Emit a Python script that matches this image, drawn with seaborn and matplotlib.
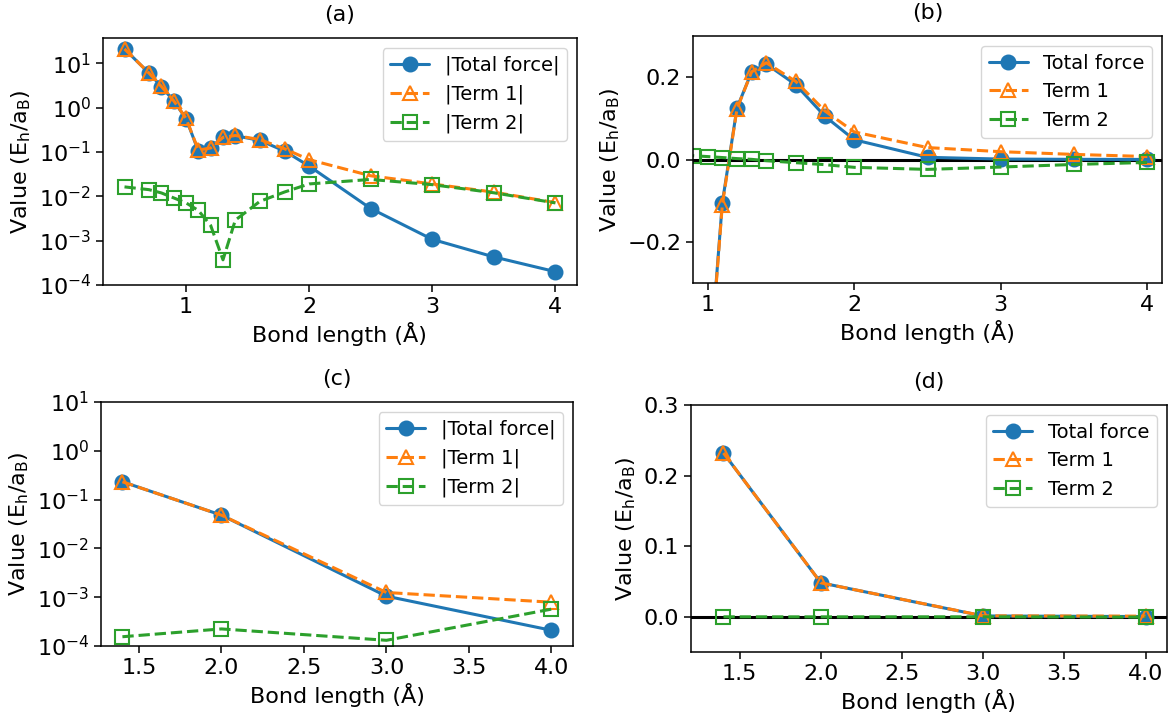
import numpy as np
import matplotlib
matplotlib.use("Agg")
import matplotlib.pyplot as plt
import seaborn as sns

# scan over bond length, panels (a)/(b)
bond_a = [0.5, 0.7, 0.8, 0.9, 1.0, 1.1, 1.2, 1.3, 1.4, 1.6, 1.8, 2.0, 2.5, 3.0, 3.5, 4.0]
total_a = [-21.0, -5.95, -2.98, -1.41, -0.565, -0.105, 0.125, 0.213, 0.232, 0.182,
           0.105, 0.048, 0.0053, 0.00107, 0.00043, 0.0002]
term1_a = [-21.0, -5.96, -2.99, -1.42, -0.572, -0.110, 0.123, 0.213, 0.235, 0.190,
           0.118, 0.067, 0.029, 0.019, 0.0124, 0.0072]
term2_a = [0.0163, 0.0141, 0.0119, 0.0092, 0.0071, 0.0048, 0.0022, 0.00037, -0.0029,
           -0.0077, -0.0125, -0.019, -0.024, -0.0183, -0.012, -0.0071]

# coarse set, panels (c)/(d)
bond_c = [1.4, 2.0, 3.0, 4.0]
total_c = [0.232, 0.048, 0.00105, 0.00021]
term1_c = [0.232, 0.048, 0.00125, 0.00079]
term2_c = [-0.000155, -0.000224, -0.000131, -0.00057]

sns.set_style("ticks", {"axes.edgecolor": "black", "text.color": "black",
                        "axes.labelcolor": "black", "xtick.color": "black",
                        "ytick.color": "black"})
plt.rcParams['font.family'] = ['DejaVu Sans']

FS = 16      # labels, ticks, titles
LFS = 14     # legend
blue, orange, green = sns.color_palette("tab10")[:3]
ylab = r"Value (E$_{\rm h}$/a$_{\rm B}$)"


def draw(ax, x, tot, t1, t2, absval):
    if absval:
        tot, t1, t2 = np.abs(tot), np.abs(t1), np.abs(t2)
        names = ["|Total force|", "|Term 1|", "|Term 2|"]
    else:
        names = ["Total force", "Term 1", "Term 2"]
    sns.lineplot(x=x, y=tot, ax=ax, color=blue, marker="o", markersize=10,
                 markeredgecolor=blue, markeredgewidth=1.5, lw=2.2, label=names[0])
    sns.lineplot(x=x, y=t1, ax=ax, color=orange, marker="^", markersize=10,
                 markerfacecolor="none", markeredgecolor=orange, markeredgewidth=1.5,
                 lw=2.2, ls="--", label=names[1])
    sns.lineplot(x=x, y=t2, ax=ax, color=green, marker="s", markersize=10,
                 markerfacecolor="none", markeredgecolor=green, markeredgewidth=1.5,
                 lw=2.2, ls="--", label=names[2])
    ax.set_xlabel("Bond length (Å)", fontsize=FS)
    ax.set_ylabel(ylab, fontsize=FS)
    ax.legend(loc="upper right", fontsize=LFS, handlelength=2.0)
    for s in ax.spines.values():
        s.set_color("black")
        s.set_linewidth(1.1)
    ax.tick_params(length=5, width=1.1, color="black", labelsize=FS)


fig = plt.figure(figsize=(11.74, 7.19), dpi=100)
ax_a = fig.add_axes([0.0877, 0.6036, 0.4037, 0.3435])
ax_b = fig.add_axes([0.5903, 0.6064, 0.3995, 0.3435])
ax_c = fig.add_axes([0.0860, 0.1015, 0.4020, 0.3394])
ax_d = fig.add_axes([0.5886, 0.0932, 0.4052, 0.3435])

# (a) absolute values, log scale
ax_a.set_yscale("log")
draw(ax_a, bond_a, total_a, term1_a, term2_a, True)
ax_a.set_ylim(1e-4, 37)
ax_a.set_xticks([1, 2, 3, 4])
ax_a.minorticks_off()
ax_a.set_title("(a)", fontsize=FS, pad=12)

# (b) signed values
ax_b.axhline(0, color="black", lw=2.2)
draw(ax_b, bond_a, total_a, term1_a, term2_a, False)
ax_b.set_xlim(0.9, 4.1)
ax_b.set_ylim(-0.3, 0.3)
ax_b.set_xticks([1, 2, 3, 4])
ax_b.set_yticks([-0.2, 0.0, 0.2])
ax_b.set_title("(b)", fontsize=FS, pad=12)

# (c)
ax_c.set_yscale("log")
draw(ax_c, bond_c, total_c, term1_c, term2_c, True)
ax_c.set_ylim(1e-4, 1e1)
ax_c.set_xticks([1.5, 2.0, 2.5, 3.0, 3.5, 4.0])
ax_c.minorticks_off()
ax_c.set_title("(c)", fontsize=FS, pad=12)

# (d)
ax_d.axhline(0, color="black", lw=2.2)
draw(ax_d, bond_c, total_c, term1_c, term2_c, False)
ax_d.set_xlim(1.2, 4.13)
ax_d.set_ylim(-0.05, 0.3)
ax_d.set_xticks([1.5, 2.0, 2.5, 3.0, 3.5, 4.0])
ax_d.set_yticks([0.0, 0.1, 0.2, 0.3])
ax_d.set_title("(d)", fontsize=FS, pad=12)

fig.savefig("out.png", dpi=100)
